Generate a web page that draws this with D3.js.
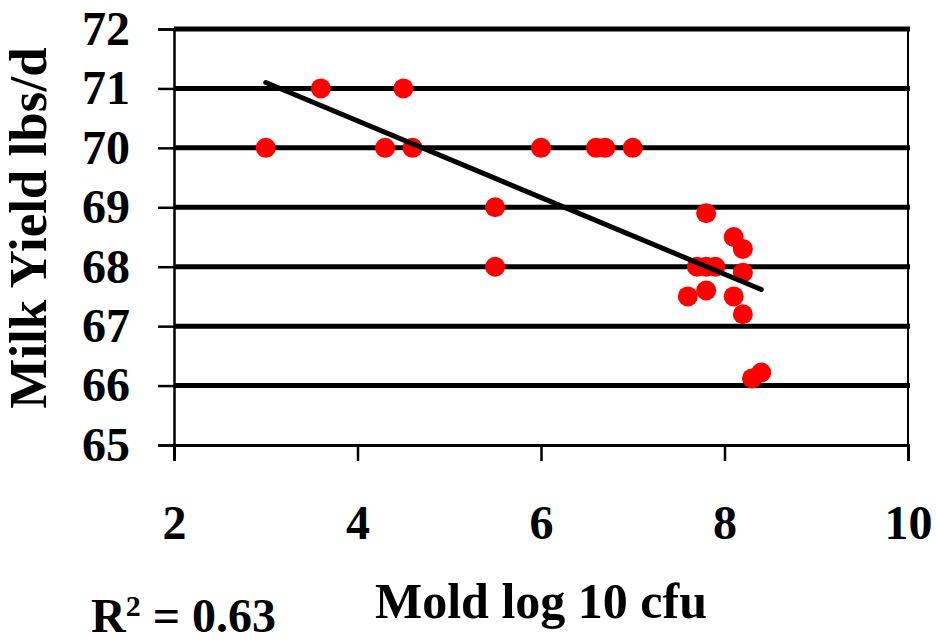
<!DOCTYPE html>
<html>
<head>
<meta charset="utf-8">
<script src="https://cdn.jsdelivr.net/npm/d3@7"></script>
<style>
  html, body { margin: 0; padding: 0; background: #fff; }
  svg { display: block; }
  text { font-family: "Liberation Serif", "Times New Roman", serif; font-weight: bold; }
</style>
</head>
<body>
<svg id="chart" width="936" height="642"></svg>
<script>
// Data
const moldLog = [3.0, 3.6, 4.3, 4.5, 4.6, 5.5, 5.5, 6.0, 6.6, 6.7, 7.0,
                 7.8, 8.1, 8.2, 7.7, 7.8, 7.9, 8.2, 7.6, 7.8, 8.1, 8.2, 8.3, 8.4];
const milkYield = [70, 71, 70, 71, 70, 69, 68, 70, 70, 70, 70,
                   68.9, 68.5, 68.3, 68.0, 68.0, 68.0, 67.9, 67.5, 67.6, 67.5, 67.2, 66.12, 66.22];
const xTicks = [2, 4, 6, 8, 10];
const yTicks = [65, 66, 67, 68, 69, 70, 71, 72];
const xTitle = "Mold log 10 cfu";
const yTitle = "Milk Yield lbs/d";
const r2Label = "0.63";

const svg = d3.select("#chart");
const mLeft = 174, mRight = 908, mTop = 29, mBottom = 445;

const x = d3.scaleLinear().domain([2, 10]).range([mLeft, mRight]);
const y = d3.scaleLinear().domain([65, 72]).range([mBottom, mTop]);

// Horizontal gridlines (thick)
svg.append("g").selectAll("line")
  .data(yTicks.filter(d => d > 65))
  .join("line")
  .attr("x1", mLeft).attr("x2", mRight + 2)
  .attr("y1", d => y(d)).attr("y2", d => y(d))
  .attr("stroke", "#000").attr("stroke-width", 5);

// Right border
svg.append("line")
  .attr("x1", mRight).attr("x2", mRight)
  .attr("y1", y(72)).attr("y2", y(65))
  .attr("stroke", "#000").attr("stroke-width", 2);

// Y axis
const yAxis = d3.axisLeft(y).tickValues(yTicks).tickSize(16).tickPadding(28).tickFormat(d3.format("d"));
const gy = svg.append("g").attr("transform", `translate(${mLeft},0)`).call(yAxis);
gy.select(".domain").attr("stroke-width", 2.5);
gy.selectAll(".tick line").attr("stroke-width", 2.5);
gy.selectAll(".tick text").attr("font-size", 48).attr("fill", "#000")
  .attr("font-family", "'Liberation Serif', 'Times New Roman', serif").attr("font-weight", "bold");

// X axis
const xAxis = d3.axisBottom(x).tickValues(xTicks).tickSize(16).tickPadding(44).tickFormat(d3.format("d"));
const gx = svg.append("g").attr("transform", `translate(0,${mBottom})`).call(xAxis);
gx.select(".domain").attr("stroke-width", 3);
gx.selectAll(".tick line").attr("stroke-width", 2.5);
gx.selectAll(".tick text").attr("font-size", 48).attr("fill", "#000")
  .attr("font-family", "'Liberation Serif', 'Times New Roman', serif").attr("font-weight", "bold");

// Points
svg.append("g").selectAll("circle")
  .data(moldLog.map((v, i) => [v, milkYield[i]]))
  .join("circle")
  .attr("cx", d => x(d[0])).attr("cy", d => y(d[1]))
  .attr("r", 10).attr("fill", "#ff0000");

// Linear trend line (least squares from data)
const n = moldLog.length;
const mx = d3.mean(moldLog), my = d3.mean(milkYield);
let sxy = 0, sxx = 0;
for (let i = 0; i < n; i++) { sxy += (moldLog[i] - mx) * (milkYield[i] - my); sxx += (moldLog[i] - mx) ** 2; }
const slope = sxy / sxx, icpt = my - slope * mx;
const xs = d3.extent(moldLog);
svg.append("path")
  .datum(xs.map(v => [v, icpt + slope * v]))
  .attr("d", d3.line().x(d => x(d[0])).y(d => y(d[1])))
  .attr("fill", "none").attr("stroke", "#000").attr("stroke-width", 5).attr("stroke-linecap", "round");

// Titles
svg.append("text")
  .attr("x", 541).attr("y", 618)
  .attr("text-anchor", "middle").attr("font-size", 50)
  .text(xTitle);

svg.append("text")
  .attr("transform", "translate(46,228) rotate(-90)")
  .attr("text-anchor", "middle").attr("font-size", 53)
  .text(yTitle);

const r2 = svg.append("text").attr("x", 91).attr("y", 632).attr("font-size", 48);
r2.append("tspan").text("R");
r2.append("tspan").attr("font-size", 30).attr("dy", -16).text("2");
r2.append("tspan").attr("dy", 16).text(" = " + r2Label);
</script>
</body>
</html>
